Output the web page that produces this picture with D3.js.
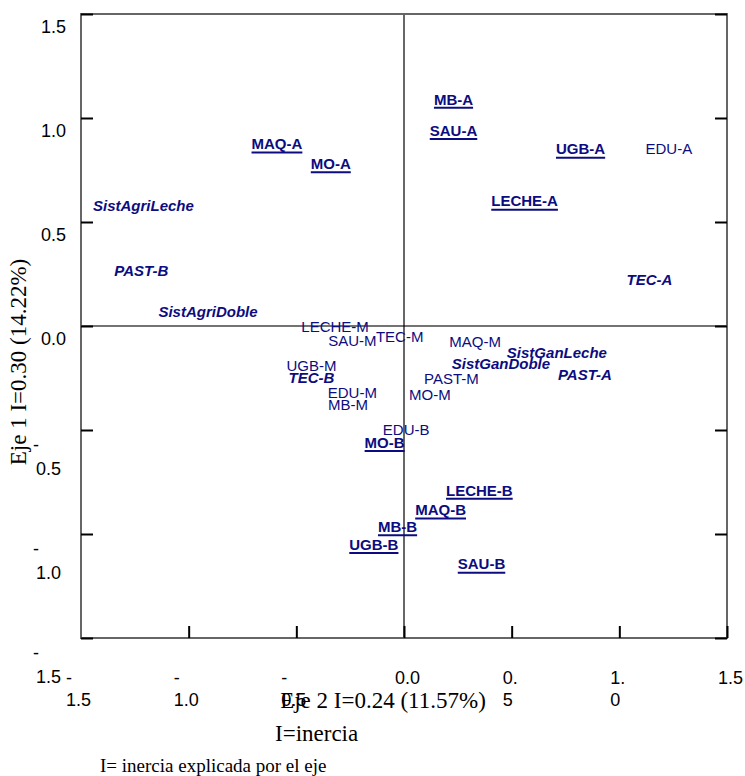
<!DOCTYPE html>
<html>
<head>
<meta charset="utf-8">
<script src="https://cdn.jsdelivr.net/npm/d3@7"></script>
<style>
  html, body { margin: 0; padding: 0; background: #fff; }
  svg { display: block; }
</style>
</head>
<body>
<svg id="chart" width="745" height="776"></svg>
<script>
// ---- data ----
const xTicks = [-1.5, -1.0, -0.5, 0.0, 0.5, 1.0, 1.5];
const yTicks = [1.5, 1.0, 0.5, 0.0, -0.5, -1.0, -1.5];
const xTickLabels = [["-", "1.5"], ["-", "1.0"], ["-", "0.5"], ["0.0"], ["0.", "5"], ["1.", "0"], ["1.5"]];
const yTickLabels = [["1.5"], ["1.0"], ["0.5"], ["0.0"], ["-", "0.5"], ["-", "1.0"], ["-", "1.5"]];

const xTitle = "Eje 2 I=0.24 (11.57%)";
const xSubTitle = "I=inercia";
const yTitle = "Eje 1 I=0.30 (14.22%)";
const footNote = "I= inercia explicada por el eje";

const modalities = ["MB-A", "SAU-A", "MAQ-A", "MO-A", "UGB-A", "LECHE-A", "MO-B", "LECHE-B", "MAQ-B", "MB-B", "UGB-B", "SAU-B",
  "SistAgriLeche", "PAST-B", "SistAgriDoble", "TEC-A", "TEC-B", "SistGanDoble", "SistGanLeche", "PAST-A",
  "EDU-A", "LECHE-M", "SAU-M", "TEC-M", "MAQ-M", "UGB-M", "PAST-M", "EDU-M", "MB-M", "MO-M", "EDU-B"];
const eje2 = [0.23, 0.23, -0.59, -0.34, 0.82, 0.56, -0.09, 0.35, 0.17, -0.03, -0.14, 0.36,
  -1.21, -1.22, -0.91, 1.14, -0.43, 0.45, 0.71, 0.84,
  1.23, -0.32, -0.24, -0.02, 0.33, -0.43, 0.22, -0.24, -0.26, 0.12, 0.01];
const eje1 = [1.09, 0.94, 0.875, 0.78, 0.85, 0.60, -0.56, -0.79, -0.885, -0.965, -1.05, -1.145,
  0.58, 0.265, 0.07, 0.22, -0.25, -0.18, -0.13, -0.235,
  0.85, -0.005, -0.07, -0.05, -0.075, -0.19, -0.255, -0.32, -0.38, -0.33, -0.50];
const grupo = ["activa", "activa", "activa", "activa", "activa", "activa", "activa", "activa", "activa", "activa", "activa", "activa",
  "suplementaria", "suplementaria", "suplementaria", "suplementaria", "suplementaria", "suplementaria", "suplementaria", "suplementaria",
  "media", "media", "media", "media", "media", "media", "media", "media", "media", "media", "media"];

// ---- layout ----
const L = 81, R = 727, T = 14, B = 638;
const x = d3.scaleLinear().domain([-1.5, 1.5]).range([L, R]);
const y = d3.scaleLinear().domain([-1.5, 1.5]).range([B, T]);
const navy = "#0c0c80";
const sans = "'Liberation Sans', Arial, sans-serif";
const serif = "'Liberation Serif', 'Times New Roman', serif";

const svg = d3.select("#chart");

// zero lines
svg.append("line").attr("x1", L).attr("x2", R).attr("y1", y(0)).attr("y2", y(0))
  .attr("stroke", "#444").attr("stroke-width", 1.5);
svg.append("line").attr("x1", x(0)).attr("x2", x(0)).attr("y1", T).attr("y2", B)
  .attr("stroke", "#000").attr("stroke-width", 1.2);

// frame
svg.append("rect").attr("x", L).attr("y", T).attr("width", R - L).attr("height", B - T)
  .attr("fill", "none").attr("stroke", "#666").attr("stroke-width", 2);

// axis ticks (through d3 axes)
function styleAxis(g) {
  g.select(".domain").remove();
  g.selectAll(".tick line").attr("stroke", "#000").attr("stroke-width", 2);
}
svg.append("g").attr("transform", `translate(${L},0)`)
  .call(d3.axisLeft(y).tickValues(yTicks).tickSize(-12).tickFormat(""))
  .call(styleAxis);
svg.append("g").attr("transform", `translate(${R},0)`)
  .call(d3.axisRight(y).tickValues(yTicks).tickSize(-12).tickFormat(""))
  .call(styleAxis);
svg.append("g").attr("transform", `translate(0,${B})`)
  .call(d3.axisBottom(x).tickValues(xTicks.slice(1)).tickSize(-12).tickFormat(""))
  .call(styleAxis);

// y tick labels (wrapped like the original)
yTicks.forEach((v, i) => {
  const lines = yTickLabels[i];
  const t = svg.append("text").attr("font-family", sans).attr("font-size", 18).attr("fill", "#000");
  if (lines.length === 1) {
    t.append("tspan").attr("x", 41).attr("y", y(v) + 13).attr("dy", "0.35em").text(lines[0]);
  } else {
    t.append("tspan").attr("x", 33).attr("y", y(v) + 15).attr("dy", "0.35em").text(lines[0]);
    t.append("tspan").attr("x", 36).attr("y", y(v) + 39).attr("dy", "0.35em").text(lines[1]);
  }
});

// x tick labels
xTicks.forEach((v, i) => {
  const lines = xTickLabels[i];
  const x0 = x(v) + (v < 0 ? -15 : -9);
  const t = svg.append("text").attr("font-family", sans).attr("font-size", 18).attr("fill", "#000");
  lines.forEach((s, k) => {
    t.append("tspan").attr("x", x0).attr("y", 678 + k * 22).attr("dy", "0.35em").text(s);
  });
});

// axis titles
svg.append("text").attr("font-family", serif).attr("font-size", 23).attr("fill", "#000")
  .attr("text-anchor", "middle").attr("x", 383).attr("y", 700).attr("dy", "0.35em").text(xTitle);
svg.append("text").attr("font-family", serif).attr("font-size", 23).attr("fill", "#000")
  .attr("x", 275).attr("y", 733).attr("dy", "0.35em").text(xSubTitle);
svg.append("text").attr("font-family", serif).attr("font-size", 19).attr("fill", "#000")
  .attr("x", 100).attr("y", 765).attr("dy", "0.35em").text(footNote);
svg.append("text").attr("font-family", serif).attr("font-size", 23).attr("fill", "#000")
  .attr("text-anchor", "middle")
  .attr("transform", "translate(18,362) rotate(-90)").attr("dy", "0.35em").text(yTitle);

// modality labels
const data = modalities.map((m, i) => ({ name: m, d2: eje2[i], d1: eje1[i], g: grupo[i] }));
const lab = svg.append("g").selectAll("g").data(data).join("g");
lab.append("text")
  .attr("x", d => x(d.d2)).attr("y", d => y(d.d1)).attr("dy", "0.35em")
  .attr("text-anchor", "middle")
  .attr("font-family", sans).attr("font-size", 15)
  .attr("font-weight", d => d.g === "media" ? "normal" : "bold")
  .attr("font-style", d => d.g === "suplementaria" ? "italic" : "normal")
  .attr("fill", navy)
  .text(d => d.name);
lab.filter(d => d.g === "activa").each(function (d) {
  const w = d3.select(this).select("text").node().getComputedTextLength();
  d3.select(this).append("line")
    .attr("x1", x(d.d2) - w / 2).attr("x2", x(d.d2) + w / 2)
    .attr("y1", y(d.d1) + 8.5).attr("y2", y(d.d1) + 8.5)
    .attr("stroke", navy).attr("stroke-width", 2);
});
</script>
</body>
</html>
